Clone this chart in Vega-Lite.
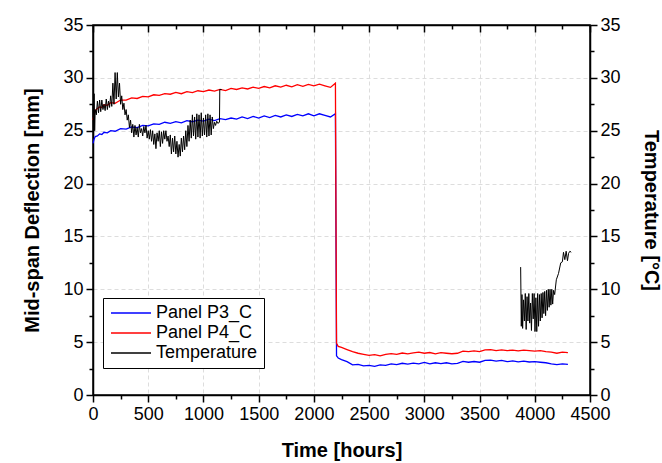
{
  "$schema": "https://vega.github.io/schema/vega-lite/v6.json",
  "width": 497,
  "height": 370,
  "autosize": {"type": "none"},
  "padding": {"left": 93, "top": 25, "right": 72, "bottom": 68},
  "background": "white",
  "config": {
    "font": "Liberation Sans",
    "view": {"stroke": "black", "strokeWidth": 1.5},
    "axis": {
      "domainColor": "black", "domainWidth": 1.5,
      "tickColor": "black", "tickWidth": 1.5,
      "labelFont": "Liberation Sans", "labelFontSize": 18, "labelColor": "black",
      "titleFont": "Liberation Sans", "titleFontSize": 20, "titleFontWeight": "bold", "titleColor": "black",
      "labelOverlap": false, "labelFlush": false, "labelBound": false
    },
    "legend": {"labelFont": "Liberation Sans"}
  },
  "data": {"values": [
    {"t":0,"v":23.8,"s":"Panel P3_C","g":"p3"},{"t":10,"v":24.2,"s":"Panel P3_C","g":"p3"},{"t":20,"v":24.45,"s":"Panel P3_C","g":"p3"},{"t":40,"v":24.5,"s":"Panel P3_C","g":"p3"},{"t":60,"v":24.7,"s":"Panel P3_C","g":"p3"},{"t":80,"v":24.65,"s":"Panel P3_C","g":"p3"},{"t":100,"v":24.85,"s":"Panel P3_C","g":"p3"},{"t":130,"v":24.8,"s":"Panel P3_C","g":"p3"},{"t":160,"v":25.0,"s":"Panel P3_C","g":"p3"},{"t":200,"v":24.95,"s":"Panel P3_C","g":"p3"},{"t":250,"v":25.2,"s":"Panel P3_C","g":"p3"},{"t":300,"v":25.15,"s":"Panel P3_C","g":"p3"},{"t":350,"v":25.35,"s":"Panel P3_C","g":"p3"},{"t":400,"v":25.3,"s":"Panel P3_C","g":"p3"},{"t":450,"v":25.5,"s":"Panel P3_C","g":"p3"},{"t":500,"v":25.45,"s":"Panel P3_C","g":"p3"},{"t":550,"v":25.65,"s":"Panel P3_C","g":"p3"},{"t":600,"v":25.6,"s":"Panel P3_C","g":"p3"},{"t":650,"v":25.8,"s":"Panel P3_C","g":"p3"},{"t":700,"v":25.7,"s":"Panel P3_C","g":"p3"},{"t":750,"v":25.85,"s":"Panel P3_C","g":"p3"},{"t":800,"v":25.75,"s":"Panel P3_C","g":"p3"},{"t":850,"v":25.95,"s":"Panel P3_C","g":"p3"},{"t":900,"v":25.85,"s":"Panel P3_C","g":"p3"},{"t":950,"v":26.0,"s":"Panel P3_C","g":"p3"},{"t":1000,"v":25.9,"s":"Panel P3_C","g":"p3"},{"t":1050,"v":26.1,"s":"Panel P3_C","g":"p3"},{"t":1100,"v":25.95,"s":"Panel P3_C","g":"p3"},{"t":1150,"v":26.15,"s":"Panel P3_C","g":"p3"},{"t":1200,"v":26.05,"s":"Panel P3_C","g":"p3"},{"t":1250,"v":26.2,"s":"Panel P3_C","g":"p3"},{"t":1300,"v":26.1,"s":"Panel P3_C","g":"p3"},{"t":1350,"v":26.3,"s":"Panel P3_C","g":"p3"},{"t":1400,"v":26.15,"s":"Panel P3_C","g":"p3"},{"t":1450,"v":26.35,"s":"Panel P3_C","g":"p3"},{"t":1500,"v":26.2,"s":"Panel P3_C","g":"p3"},{"t":1550,"v":26.4,"s":"Panel P3_C","g":"p3"},{"t":1600,"v":26.25,"s":"Panel P3_C","g":"p3"},{"t":1650,"v":26.45,"s":"Panel P3_C","g":"p3"},{"t":1700,"v":26.3,"s":"Panel P3_C","g":"p3"},{"t":1750,"v":26.5,"s":"Panel P3_C","g":"p3"},{"t":1800,"v":26.35,"s":"Panel P3_C","g":"p3"},{"t":1850,"v":26.55,"s":"Panel P3_C","g":"p3"},{"t":1900,"v":26.4,"s":"Panel P3_C","g":"p3"},{"t":1950,"v":26.6,"s":"Panel P3_C","g":"p3"},{"t":2000,"v":26.4,"s":"Panel P3_C","g":"p3"},{"t":2050,"v":26.6,"s":"Panel P3_C","g":"p3"},{"t":2100,"v":26.45,"s":"Panel P3_C","g":"p3"},{"t":2150,"v":26.3,"s":"Panel P3_C","g":"p3"},{"t":2195,"v":26.6,"s":"Panel P3_C","g":"p3"},{"t":2205,"v":3.7,"s":"Panel P3_C","g":"p3"},{"t":2220,"v":3.5,"s":"Panel P3_C","g":"p3"},{"t":2250,"v":3.35,"s":"Panel P3_C","g":"p3"},{"t":2300,"v":3.15,"s":"Panel P3_C","g":"p3"},{"t":2350,"v":2.85,"s":"Panel P3_C","g":"p3"},{"t":2400,"v":2.9,"s":"Panel P3_C","g":"p3"},{"t":2450,"v":2.75,"s":"Panel P3_C","g":"p3"},{"t":2500,"v":2.8,"s":"Panel P3_C","g":"p3"},{"t":2550,"v":2.7,"s":"Panel P3_C","g":"p3"},{"t":2600,"v":2.85,"s":"Panel P3_C","g":"p3"},{"t":2650,"v":2.8,"s":"Panel P3_C","g":"p3"},{"t":2700,"v":2.95,"s":"Panel P3_C","g":"p3"},{"t":2750,"v":2.88,"s":"Panel P3_C","g":"p3"},{"t":2800,"v":3.0,"s":"Panel P3_C","g":"p3"},{"t":2850,"v":2.92,"s":"Panel P3_C","g":"p3"},{"t":2900,"v":3.02,"s":"Panel P3_C","g":"p3"},{"t":2950,"v":2.95,"s":"Panel P3_C","g":"p3"},{"t":3000,"v":3.08,"s":"Panel P3_C","g":"p3"},{"t":3050,"v":2.95,"s":"Panel P3_C","g":"p3"},{"t":3100,"v":3.05,"s":"Panel P3_C","g":"p3"},{"t":3150,"v":2.97,"s":"Panel P3_C","g":"p3"},{"t":3200,"v":3.05,"s":"Panel P3_C","g":"p3"},{"t":3250,"v":2.95,"s":"Panel P3_C","g":"p3"},{"t":3300,"v":3.0,"s":"Panel P3_C","g":"p3"},{"t":3350,"v":3.18,"s":"Panel P3_C","g":"p3"},{"t":3400,"v":3.1,"s":"Panel P3_C","g":"p3"},{"t":3450,"v":3.17,"s":"Panel P3_C","g":"p3"},{"t":3500,"v":3.1,"s":"Panel P3_C","g":"p3"},{"t":3550,"v":3.28,"s":"Panel P3_C","g":"p3"},{"t":3600,"v":3.3,"s":"Panel P3_C","g":"p3"},{"t":3650,"v":3.2,"s":"Panel P3_C","g":"p3"},{"t":3700,"v":3.27,"s":"Panel P3_C","g":"p3"},{"t":3750,"v":3.15,"s":"Panel P3_C","g":"p3"},{"t":3800,"v":3.22,"s":"Panel P3_C","g":"p3"},{"t":3850,"v":3.14,"s":"Panel P3_C","g":"p3"},{"t":3900,"v":3.2,"s":"Panel P3_C","g":"p3"},{"t":3950,"v":3.12,"s":"Panel P3_C","g":"p3"},{"t":4000,"v":3.15,"s":"Panel P3_C","g":"p3"},{"t":4050,"v":3.1,"s":"Panel P3_C","g":"p3"},{"t":4100,"v":3.05,"s":"Panel P3_C","g":"p3"},{"t":4150,"v":2.95,"s":"Panel P3_C","g":"p3"},{"t":4200,"v":2.88,"s":"Panel P3_C","g":"p3"},{"t":4250,"v":2.95,"s":"Panel P3_C","g":"p3"},{"t":4300,"v":2.9,"s":"Panel P3_C","g":"p3"},
    {"t":0,"v":26.0,"s":"Panel P4_C","g":"p4"},{"t":10,"v":26.6,"s":"Panel P4_C","g":"p4"},{"t":20,"v":26.9,"s":"Panel P4_C","g":"p4"},{"t":40,"v":27.1,"s":"Panel P4_C","g":"p4"},{"t":60,"v":27.25,"s":"Panel P4_C","g":"p4"},{"t":80,"v":27.2,"s":"Panel P4_C","g":"p4"},{"t":100,"v":27.45,"s":"Panel P4_C","g":"p4"},{"t":130,"v":27.4,"s":"Panel P4_C","g":"p4"},{"t":160,"v":27.65,"s":"Panel P4_C","g":"p4"},{"t":200,"v":27.6,"s":"Panel P4_C","g":"p4"},{"t":250,"v":27.9,"s":"Panel P4_C","g":"p4"},{"t":300,"v":27.9,"s":"Panel P4_C","g":"p4"},{"t":350,"v":28.1,"s":"Panel P4_C","g":"p4"},{"t":400,"v":28.05,"s":"Panel P4_C","g":"p4"},{"t":450,"v":28.25,"s":"Panel P4_C","g":"p4"},{"t":500,"v":28.2,"s":"Panel P4_C","g":"p4"},{"t":550,"v":28.4,"s":"Panel P4_C","g":"p4"},{"t":600,"v":28.35,"s":"Panel P4_C","g":"p4"},{"t":650,"v":28.5,"s":"Panel P4_C","g":"p4"},{"t":700,"v":28.45,"s":"Panel P4_C","g":"p4"},{"t":750,"v":28.62,"s":"Panel P4_C","g":"p4"},{"t":800,"v":28.5,"s":"Panel P4_C","g":"p4"},{"t":850,"v":28.7,"s":"Panel P4_C","g":"p4"},{"t":900,"v":28.6,"s":"Panel P4_C","g":"p4"},{"t":950,"v":28.78,"s":"Panel P4_C","g":"p4"},{"t":1000,"v":28.7,"s":"Panel P4_C","g":"p4"},{"t":1050,"v":28.85,"s":"Panel P4_C","g":"p4"},{"t":1100,"v":28.75,"s":"Panel P4_C","g":"p4"},{"t":1150,"v":28.9,"s":"Panel P4_C","g":"p4"},{"t":1200,"v":28.8,"s":"Panel P4_C","g":"p4"},{"t":1250,"v":29.0,"s":"Panel P4_C","g":"p4"},{"t":1300,"v":28.9,"s":"Panel P4_C","g":"p4"},{"t":1350,"v":29.05,"s":"Panel P4_C","g":"p4"},{"t":1400,"v":28.95,"s":"Panel P4_C","g":"p4"},{"t":1450,"v":29.12,"s":"Panel P4_C","g":"p4"},{"t":1500,"v":29.0,"s":"Panel P4_C","g":"p4"},{"t":1550,"v":29.18,"s":"Panel P4_C","g":"p4"},{"t":1600,"v":29.05,"s":"Panel P4_C","g":"p4"},{"t":1650,"v":29.25,"s":"Panel P4_C","g":"p4"},{"t":1700,"v":29.12,"s":"Panel P4_C","g":"p4"},{"t":1750,"v":29.3,"s":"Panel P4_C","g":"p4"},{"t":1800,"v":29.15,"s":"Panel P4_C","g":"p4"},{"t":1850,"v":29.35,"s":"Panel P4_C","g":"p4"},{"t":1900,"v":29.2,"s":"Panel P4_C","g":"p4"},{"t":1950,"v":29.38,"s":"Panel P4_C","g":"p4"},{"t":2000,"v":29.25,"s":"Panel P4_C","g":"p4"},{"t":2050,"v":29.4,"s":"Panel P4_C","g":"p4"},{"t":2100,"v":29.25,"s":"Panel P4_C","g":"p4"},{"t":2150,"v":29.1,"s":"Panel P4_C","g":"p4"},{"t":2195,"v":29.5,"s":"Panel P4_C","g":"p4"},{"t":2205,"v":4.9,"s":"Panel P4_C","g":"p4"},{"t":2220,"v":4.6,"s":"Panel P4_C","g":"p4"},{"t":2250,"v":4.5,"s":"Panel P4_C","g":"p4"},{"t":2300,"v":4.3,"s":"Panel P4_C","g":"p4"},{"t":2350,"v":4.1,"s":"Panel P4_C","g":"p4"},{"t":2400,"v":3.95,"s":"Panel P4_C","g":"p4"},{"t":2450,"v":3.85,"s":"Panel P4_C","g":"p4"},{"t":2500,"v":3.75,"s":"Panel P4_C","g":"p4"},{"t":2550,"v":3.82,"s":"Panel P4_C","g":"p4"},{"t":2600,"v":3.7,"s":"Panel P4_C","g":"p4"},{"t":2650,"v":3.85,"s":"Panel P4_C","g":"p4"},{"t":2700,"v":3.92,"s":"Panel P4_C","g":"p4"},{"t":2750,"v":3.85,"s":"Panel P4_C","g":"p4"},{"t":2800,"v":3.97,"s":"Panel P4_C","g":"p4"},{"t":2850,"v":3.9,"s":"Panel P4_C","g":"p4"},{"t":2900,"v":3.98,"s":"Panel P4_C","g":"p4"},{"t":2950,"v":4.05,"s":"Panel P4_C","g":"p4"},{"t":3000,"v":3.95,"s":"Panel P4_C","g":"p4"},{"t":3050,"v":4.02,"s":"Panel P4_C","g":"p4"},{"t":3100,"v":3.9,"s":"Panel P4_C","g":"p4"},{"t":3150,"v":4.0,"s":"Panel P4_C","g":"p4"},{"t":3200,"v":3.95,"s":"Panel P4_C","g":"p4"},{"t":3250,"v":3.9,"s":"Panel P4_C","g":"p4"},{"t":3300,"v":3.95,"s":"Panel P4_C","g":"p4"},{"t":3350,"v":4.15,"s":"Panel P4_C","g":"p4"},{"t":3400,"v":4.1,"s":"Panel P4_C","g":"p4"},{"t":3450,"v":4.17,"s":"Panel P4_C","g":"p4"},{"t":3500,"v":4.1,"s":"Panel P4_C","g":"p4"},{"t":3550,"v":4.27,"s":"Panel P4_C","g":"p4"},{"t":3600,"v":4.3,"s":"Panel P4_C","g":"p4"},{"t":3650,"v":4.2,"s":"Panel P4_C","g":"p4"},{"t":3700,"v":4.27,"s":"Panel P4_C","g":"p4"},{"t":3750,"v":4.2,"s":"Panel P4_C","g":"p4"},{"t":3800,"v":4.25,"s":"Panel P4_C","g":"p4"},{"t":3850,"v":4.18,"s":"Panel P4_C","g":"p4"},{"t":3900,"v":4.25,"s":"Panel P4_C","g":"p4"},{"t":3950,"v":4.2,"s":"Panel P4_C","g":"p4"},{"t":4000,"v":4.15,"s":"Panel P4_C","g":"p4"},{"t":4050,"v":4.2,"s":"Panel P4_C","g":"p4"},{"t":4100,"v":4.1,"s":"Panel P4_C","g":"p4"},{"t":4150,"v":4.05,"s":"Panel P4_C","g":"p4"},{"t":4200,"v":3.95,"s":"Panel P4_C","g":"p4"},{"t":4250,"v":4.05,"s":"Panel P4_C","g":"p4"},{"t":4300,"v":4.0,"s":"Panel P4_C","g":"p4"},
    {"t":0,"v":27.5,"s":"Temperature","g":"A"},{"t":5,"v":24.5,"s":"Temperature","g":"A"},{"t":10,"v":28.5,"s":"Temperature","g":"A"},{"t":15,"v":25.0,"s":"Temperature","g":"A"},{"t":20,"v":27.0,"s":"Temperature","g":"A"},{"t":30,"v":26.5,"s":"Temperature","g":"A"},{"t":40,"v":27.8,"s":"Temperature","g":"A"},{"t":50,"v":26.7,"s":"Temperature","g":"A"},{"t":60,"v":27.9,"s":"Temperature","g":"A"},{"t":70,"v":26.8,"s":"Temperature","g":"A"},{"t":80,"v":27.9,"s":"Temperature","g":"A"},{"t":90,"v":27.0,"s":"Temperature","g":"A"},{"t":100,"v":27.5,"s":"Temperature","g":"A"},{"t":110,"v":26.9,"s":"Temperature","g":"A"},{"t":120,"v":28.0,"s":"Temperature","g":"A"},{"t":130,"v":27.0,"s":"Temperature","g":"A"},{"t":140,"v":27.8,"s":"Temperature","g":"A"},{"t":150,"v":27.2,"s":"Temperature","g":"A"},{"t":160,"v":28.3,"s":"Temperature","g":"A"},{"t":170,"v":27.3,"s":"Temperature","g":"A"},{"t":180,"v":29.5,"s":"Temperature","g":"A"},{"t":190,"v":27.5,"s":"Temperature","g":"A"},{"t":200,"v":30.5,"s":"Temperature","g":"A"},{"t":210,"v":28.0,"s":"Temperature","g":"A"},{"t":220,"v":30.5,"s":"Temperature","g":"A"},{"t":230,"v":28.2,"s":"Temperature","g":"A"},{"t":240,"v":29.5,"s":"Temperature","g":"A"},{"t":250,"v":27.5,"s":"Temperature","g":"A"},{"t":260,"v":28.3,"s":"Temperature","g":"A"},{"t":270,"v":27.0,"s":"Temperature","g":"A"},{"t":280,"v":27.6,"s":"Temperature","g":"A"},{"t":290,"v":26.5,"s":"Temperature","g":"A"},{"t":300,"v":27.0,"s":"Temperature","g":"A"},{"t":310,"v":26.0,"s":"Temperature","g":"A"},{"t":320,"v":26.5,"s":"Temperature","g":"A"},{"t":330,"v":25.3,"s":"Temperature","g":"A"},{"t":340,"v":26.0,"s":"Temperature","g":"A"},{"t":350,"v":24.8,"s":"Temperature","g":"A"},{"t":360,"v":25.6,"s":"Temperature","g":"A"},{"t":370,"v":24.4,"s":"Temperature","g":"A"},{"t":380,"v":25.5,"s":"Temperature","g":"A"},{"t":390,"v":24.6,"s":"Temperature","g":"A"},{"t":400,"v":25.3,"s":"Temperature","g":"A"},{"t":410,"v":24.4,"s":"Temperature","g":"A"},{"t":420,"v":25.6,"s":"Temperature","g":"A"},{"t":430,"v":24.8,"s":"Temperature","g":"A"},{"t":440,"v":25.2,"s":"Temperature","g":"A"},{"t":450,"v":24.5,"s":"Temperature","g":"A"},{"t":460,"v":25.4,"s":"Temperature","g":"A"},{"t":470,"v":24.8,"s":"Temperature","g":"A"},{"t":480,"v":25.5,"s":"Temperature","g":"A"},{"t":490,"v":24.3,"s":"Temperature","g":"A"},{"t":500,"v":25.0,"s":"Temperature","g":"A"},{"t":510,"v":24.2,"s":"Temperature","g":"A"},{"t":520,"v":25.1,"s":"Temperature","g":"A"},{"t":530,"v":24.0,"s":"Temperature","g":"A"},{"t":540,"v":25.0,"s":"Temperature","g":"A"},{"t":550,"v":23.7,"s":"Temperature","g":"A"},{"t":560,"v":24.7,"s":"Temperature","g":"A"},{"t":570,"v":23.3,"s":"Temperature","g":"A"},{"t":580,"v":24.8,"s":"Temperature","g":"A"},{"t":590,"v":24.0,"s":"Temperature","g":"A"},{"t":600,"v":25.0,"s":"Temperature","g":"A"},{"t":610,"v":23.5,"s":"Temperature","g":"A"},{"t":620,"v":24.9,"s":"Temperature","g":"A"},{"t":630,"v":23.8,"s":"Temperature","g":"A"},{"t":640,"v":25.0,"s":"Temperature","g":"A"},{"t":650,"v":24.2,"s":"Temperature","g":"A"},{"t":660,"v":25.0,"s":"Temperature","g":"A"},{"t":670,"v":24.0,"s":"Temperature","g":"A"},{"t":680,"v":24.5,"s":"Temperature","g":"A"},{"t":690,"v":23.5,"s":"Temperature","g":"A"},{"t":700,"v":24.6,"s":"Temperature","g":"A"},{"t":710,"v":22.8,"s":"Temperature","g":"A"},{"t":720,"v":24.3,"s":"Temperature","g":"A"},{"t":730,"v":23.0,"s":"Temperature","g":"A"},{"t":740,"v":24.5,"s":"Temperature","g":"A"},{"t":750,"v":22.8,"s":"Temperature","g":"A"},{"t":760,"v":24.0,"s":"Temperature","g":"A"},{"t":770,"v":22.5,"s":"Temperature","g":"A"},{"t":780,"v":23.7,"s":"Temperature","g":"A"},{"t":790,"v":22.6,"s":"Temperature","g":"A"},{"t":800,"v":24.3,"s":"Temperature","g":"A"},{"t":810,"v":23.0,"s":"Temperature","g":"A"},{"t":820,"v":24.5,"s":"Temperature","g":"A"},{"t":830,"v":23.2,"s":"Temperature","g":"A"},{"t":840,"v":25.0,"s":"Temperature","g":"A"},{"t":850,"v":23.5,"s":"Temperature","g":"A"},{"t":860,"v":25.5,"s":"Temperature","g":"A"},{"t":870,"v":24.0,"s":"Temperature","g":"A"},{"t":880,"v":26.0,"s":"Temperature","g":"A"},{"t":890,"v":24.3,"s":"Temperature","g":"A"},{"t":900,"v":26.5,"s":"Temperature","g":"A"},{"t":910,"v":24.5,"s":"Temperature","g":"A"},{"t":920,"v":26.3,"s":"Temperature","g":"A"},{"t":930,"v":24.2,"s":"Temperature","g":"A"},{"t":940,"v":26.6,"s":"Temperature","g":"A"},{"t":950,"v":24.4,"s":"Temperature","g":"A"},{"t":960,"v":26.5,"s":"Temperature","g":"A"},{"t":970,"v":24.3,"s":"Temperature","g":"A"},{"t":980,"v":26.7,"s":"Temperature","g":"A"},{"t":990,"v":24.5,"s":"Temperature","g":"A"},{"t":1000,"v":26.2,"s":"Temperature","g":"A"},{"t":1010,"v":24.6,"s":"Temperature","g":"A"},{"t":1020,"v":26.5,"s":"Temperature","g":"A"},{"t":1030,"v":24.4,"s":"Temperature","g":"A"},{"t":1040,"v":26.6,"s":"Temperature","g":"A"},{"t":1050,"v":24.5,"s":"Temperature","g":"A"},{"t":1060,"v":26.5,"s":"Temperature","g":"A"},{"t":1070,"v":24.6,"s":"Temperature","g":"A"},{"t":1080,"v":26.3,"s":"Temperature","g":"A"},{"t":1090,"v":25.2,"s":"Temperature","g":"A"},{"t":1100,"v":25.8,"s":"Temperature","g":"A"},{"t":1110,"v":25.5,"s":"Temperature","g":"A"},{"t":1120,"v":25.9,"s":"Temperature","g":"A"},{"t":1130,"v":25.7,"s":"Temperature","g":"A"},{"t":1145,"v":25.8,"s":"Temperature","g":"A"},{"t":1148,"v":28.9,"s":"Temperature","g":"A"},{"t":1165,"v":28.9,"s":"Temperature","g":"A"},
    {"t":3872,"v":12.1,"s":"Temperature","g":"B"},{"t":3878,"v":6.5,"s":"Temperature","g":"B"},{"t":3884,"v":9.5,"s":"Temperature","g":"B"},{"t":3890,"v":6.3,"s":"Temperature","g":"B"},{"t":3898,"v":9.0,"s":"Temperature","g":"B"},{"t":3906,"v":7.0,"s":"Temperature","g":"B"},{"t":3914,"v":9.6,"s":"Temperature","g":"B"},{"t":3922,"v":6.2,"s":"Temperature","g":"B"},{"t":3930,"v":9.3,"s":"Temperature","g":"B"},{"t":3938,"v":7.0,"s":"Temperature","g":"B"},{"t":3946,"v":9.6,"s":"Temperature","g":"B"},{"t":3954,"v":6.8,"s":"Temperature","g":"B"},{"t":3962,"v":8.7,"s":"Temperature","g":"B"},{"t":3970,"v":6.1,"s":"Temperature","g":"B"},{"t":3978,"v":9.6,"s":"Temperature","g":"B"},{"t":3986,"v":7.2,"s":"Temperature","g":"B"},{"t":3994,"v":9.6,"s":"Temperature","g":"B"},{"t":4002,"v":6.0,"s":"Temperature","g":"B"},{"t":4010,"v":9.2,"s":"Temperature","g":"B"},{"t":4018,"v":6.0,"s":"Temperature","g":"B"},{"t":4026,"v":9.6,"s":"Temperature","g":"B"},{"t":4034,"v":6.5,"s":"Temperature","g":"B"},{"t":4042,"v":9.5,"s":"Temperature","g":"B"},{"t":4050,"v":7.0,"s":"Temperature","g":"B"},{"t":4058,"v":9.6,"s":"Temperature","g":"B"},{"t":4066,"v":7.3,"s":"Temperature","g":"B"},{"t":4074,"v":9.7,"s":"Temperature","g":"B"},{"t":4082,"v":7.7,"s":"Temperature","g":"B"},{"t":4090,"v":9.8,"s":"Temperature","g":"B"},{"t":4098,"v":7.5,"s":"Temperature","g":"B"},{"t":4106,"v":9.9,"s":"Temperature","g":"B"},{"t":4114,"v":8.0,"s":"Temperature","g":"B"},{"t":4122,"v":10.0,"s":"Temperature","g":"B"},{"t":4130,"v":8.3,"s":"Temperature","g":"B"},{"t":4138,"v":10.0,"s":"Temperature","g":"B"},{"t":4146,"v":8.5,"s":"Temperature","g":"B"},{"t":4154,"v":10.0,"s":"Temperature","g":"B"},{"t":4162,"v":8.6,"s":"Temperature","g":"B"},{"t":4170,"v":9.9,"s":"Temperature","g":"B"},{"t":4180,"v":9.5,"s":"Temperature","g":"B"},{"t":4195,"v":10.9,"s":"Temperature","g":"B"},{"t":4215,"v":11.5,"s":"Temperature","g":"B"},{"t":4235,"v":12.5,"s":"Temperature","g":"B"},{"t":4250,"v":12.6,"s":"Temperature","g":"B"},{"t":4260,"v":13.5,"s":"Temperature","g":"B"},{"t":4272,"v":12.8,"s":"Temperature","g":"B"},{"t":4284,"v":13.6,"s":"Temperature","g":"B"},{"t":4296,"v":12.7,"s":"Temperature","g":"B"},{"t":4306,"v":13.4,"s":"Temperature","g":"B"},{"t":4318,"v":13.6,"s":"Temperature","g":"B"},{"t":4330,"v":13.5,"s":"Temperature","g":"B"}
  ]},
  "layer": [
    {
      "transform": [{"filter": "datum.s !== 'Temperature'"}],
      "mark": {"type": "line", "strokeWidth": 1.3, "interpolate": "linear"},
      "encoding": {
        "x": {"field": "t", "type": "quantitative",
          "scale": {"domain": [0, 4500], "nice": false, "zero": false},
          "axis": {
            "title": "Time [hours]",
            "values": [0,250,500,750,1000,1250,1500,1750,2000,2250,2500,2750,3000,3250,3500,3750,4000,4250,4500],
            "format": "d",
            "labelExpr": "datum.value % 500 === 0 ? datum.label : ''",
            "tickSize": {"condition": {"test": "datum.value % 500 === 0", "value": 7}, "value": 4},
            "labelPadding": 3,
            "titlePadding": 17,
            "grid": true,
            "gridDash": [4, 3],
            "gridWidth": 1,
            "gridColor": {"condition": {"test": "datum.value % 500 === 0 && datum.value > 0 && datum.value < 4500", "value": "#dddddd"}, "value": "transparent"}
          }
        },
        "y": {"field": "v", "type": "quantitative",
          "scale": {"domain": [0, 35], "nice": false},
          "axis": {
            "title": "Mid-span Deflection [mm]",
            "values": [0,2.5,5,7.5,10,12.5,15,17.5,20,22.5,25,27.5,30,32.5,35],
            "labelExpr": "datum.value % 5 === 0 ? datum.label : ''",
            "tickSize": {"condition": {"test": "datum.value % 5 === 0", "value": 7}, "value": 4},
            "labelPadding": 3,
            "titlePadding": 20,
            "grid": true,
            "gridDash": [4, 3],
            "gridWidth": 1,
            "gridColor": {"condition": {"test": "datum.value % 5 === 0 && datum.value > 0 && datum.value < 35", "value": "#dddddd"}, "value": "transparent"}
          }
        },
        "color": {"field": "s", "type": "nominal",
          "scale": {"domain": ["Panel P3_C", "Panel P4_C", "Temperature"], "range": ["#0000ff", "#ff0000", "#000000"]},
          "legend": {
            "orient": "none", "legendX": 10, "legendY": 273,
            "title": null,
            "strokeColor": "black", "fillColor": "white",
            "padding": 6,
            "symbolType": "M-4,0H4", "symbolSize": 100, "symbolStrokeWidth": 1.5,
            "symbolOffset": 13,
            "labelFontSize": 18, "labelColor": "black", "labelOffset": 16,
            "rowPadding": 2
          }
        },
        "detail": {"field": "g", "type": "nominal"}
      }
    },
    {
      "transform": [{"filter": "datum.s === 'Temperature'"}],
      "mark": {"type": "line", "strokeWidth": 1, "interpolate": "linear"},
      "encoding": {
        "x": {"field": "t", "type": "quantitative",
          "scale": {"domain": [0, 4500], "nice": false, "zero": false},
          "axis": {
            "orient": "top",
            "title": null,
            "labels": false,
            "grid": false,
            "values": [0,250,500,750,1000,1250,1500,1750,2000,2250,2500,2750,3000,3250,3500,3750,4000,4250,4500],
            "tickSize": {"condition": {"test": "datum.value % 500 === 0", "value": -7}, "value": -4}
          }
        },
        "y": {"field": "v", "type": "quantitative",
          "scale": {"domain": [0, 35], "nice": false},
          "axis": {
            "orient": "right",
            "title": "Temperature [°C]",
            "grid": false,
            "values": [0,2.5,5,7.5,10,12.5,15,17.5,20,22.5,25,27.5,30,32.5,35],
            "labelExpr": "datum.value % 5 === 0 ? datum.label : ''",
            "tickSize": {"condition": {"test": "datum.value % 5 === 0", "value": 7}, "value": 4},
            "labelPadding": 3,
            "titlePadding": 20
          }
        },
        "color": {"field": "s", "type": "nominal"},
        "detail": {"field": "g", "type": "nominal"}
      }
    }
  ],
  "resolve": {"scale": {"y": "independent"}, "axis": {"x": "independent", "y": "independent"}}
}
